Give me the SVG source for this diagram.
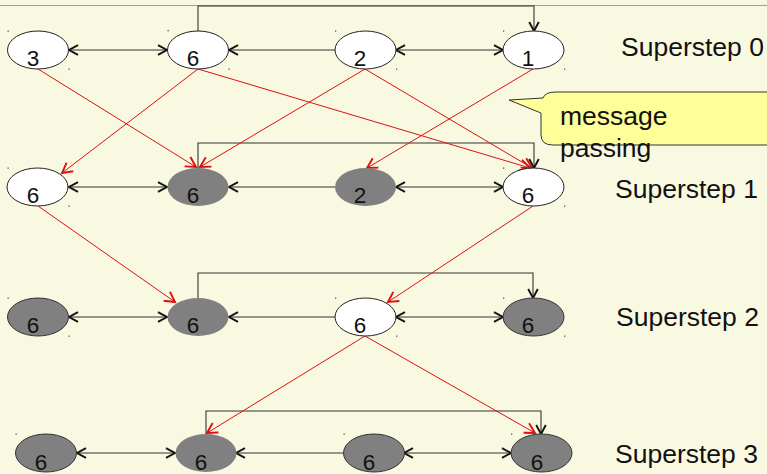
<svg xmlns="http://www.w3.org/2000/svg" width="767" height="474" viewBox="0 0 767 474">
<style>
.w{fill:#ffffff;stroke:#222;stroke-width:1}
.g{fill:#808080;stroke:none}
.go{fill:#808080;stroke:#333;stroke-width:1}
.d{font-family:"Liberation Sans",Arial,sans-serif;font-size:22.5px;fill:#111}
.lbl{font-family:"Liberation Sans",Arial,sans-serif;font-size:26.5px;fill:#111}
.k{fill:none;stroke:#333;stroke-width:1.1}
.r{fill:none;stroke:#dd1111;stroke-width:1}
.dot{fill:#555}
</style>
<defs>
<marker id="ak" markerUnits="userSpaceOnUse" markerWidth="14" markerHeight="14" refX="10" refY="6" orient="auto-start-reverse" viewBox="0 0 14 12">
<path d="M1,1.2 L10,6 L1,10.8" fill="none" stroke="#111" stroke-width="1.9"/>
</marker>
<marker id="ar" markerUnits="userSpaceOnUse" markerWidth="14" markerHeight="14" refX="11" refY="6" orient="auto" viewBox="0 0 14 12">
<path d="M1,0.5 L11,6 L1,11.5" fill="none" stroke="#dd1111" stroke-width="1.9"/>
</marker>
</defs>
<rect x="0" y="0" width="767" height="474" fill="#f9f9e1"/>
<line x1="0" y1="5.5" x2="767" y2="5.5" stroke="#a89c80" stroke-width="1"/>

<g id="connectors">
<path class="k" d="M198,31 V6 H534 V31" marker-end="url(#ak)"/>
<path class="k" d="M198,168 V143 H534 V168" marker-end="url(#ak)"/>
<path class="k" d="M198,298 V273 H533 V298" marker-end="url(#ak)"/>
<path class="k" d="M206,434 V411 H541 V434" marker-end="url(#ak)"/>
<line class="k" x1="69" y1="50" x2="167" y2="50" marker-start="url(#ak)" marker-end="url(#ak)"/>
<line class="k" x1="335" y1="50" x2="229" y2="50" marker-end="url(#ak)"/>
<line class="k" x1="396" y1="50" x2="503" y2="50" marker-start="url(#ak)" marker-end="url(#ak)"/>
<line class="k" x1="69" y1="187" x2="167" y2="187" marker-start="url(#ak)" marker-end="url(#ak)"/>
<line class="k" x1="335" y1="187" x2="229" y2="187" marker-end="url(#ak)"/>
<line class="k" x1="396" y1="187" x2="503" y2="187" marker-start="url(#ak)" marker-end="url(#ak)"/>
<line class="k" x1="69" y1="317" x2="167" y2="317" marker-start="url(#ak)" marker-end="url(#ak)"/>
<line class="k" x1="335" y1="317" x2="229" y2="317" marker-end="url(#ak)"/>
<line class="k" x1="396" y1="317" x2="503" y2="317" marker-start="url(#ak)" marker-end="url(#ak)"/>
<line class="k" x1="77" y1="453" x2="175" y2="453" marker-start="url(#ak)" marker-end="url(#ak)"/>
<line class="k" x1="343" y1="453" x2="236" y2="453" marker-end="url(#ak)"/>
<line class="k" x1="404" y1="453" x2="511" y2="453" marker-start="url(#ak)" marker-end="url(#ak)"/>
<line class="r" x1="38" y1="69" x2="196" y2="167" marker-end="url(#ar)"/>
<line class="r" x1="198" y1="69" x2="62" y2="173" marker-end="url(#ar)"/>
<line class="r" x1="198" y1="69" x2="530" y2="168" marker-end="url(#ar)"/>
<line class="r" x1="365" y1="69" x2="200" y2="167" marker-end="url(#ar)"/>
<line class="r" x1="365" y1="69" x2="532" y2="168" marker-end="url(#ar)"/>
<line class="r" x1="533" y1="69" x2="367" y2="168" marker-end="url(#ar)"/>
<line class="r" x1="38" y1="206" x2="175" y2="302" marker-end="url(#ar)"/>
<line class="r" x1="533" y1="206" x2="388" y2="302" marker-end="url(#ar)"/>
<line class="r" x1="365" y1="336" x2="207" y2="433" marker-end="url(#ar)"/>
<line class="r" x1="365" y1="336" x2="535" y2="433" marker-end="url(#ar)"/>
</g>

<g id="n0a"><ellipse class="w" cx="38" cy="50" rx="30.5" ry="19"/><text class="d" x="33" y="66" text-anchor="middle">3</text><rect class="dot" x="7.5" y="30.5" width="1.3" height="1.3"/><rect class="dot" x="68.5" y="68.5" width="1.3" height="1.3"/></g>
<g id="n0b"><ellipse class="w" cx="198" cy="50" rx="30.5" ry="19"/><text class="d" x="193" y="66" text-anchor="middle">6</text><rect class="dot" x="167.5" y="30" width="1.3" height="1.3"/><rect class="dot" x="228.5" y="68.5" width="1.3" height="1.3"/></g>
<g id="n0c"><ellipse class="w" cx="365.5" cy="50" rx="30.5" ry="19"/><text class="d" x="360" y="66" text-anchor="middle">2</text><rect class="dot" x="335" y="30.5" width="1.3" height="1.3"/><rect class="dot" x="396" y="68.5" width="1.3" height="1.3"/></g>
<g id="n0d"><ellipse class="w" cx="533.5" cy="50" rx="30.5" ry="19"/><text class="d" x="528" y="66" text-anchor="middle">1</text><rect class="dot" x="503" y="30.5" width="1.3" height="1.3"/><rect class="dot" x="564" y="68.5" width="1.3" height="1.3"/></g>

<g id="n1a"><ellipse class="w" cx="37.5" cy="187" rx="30.5" ry="19"/><text class="d" x="33" y="203" text-anchor="middle">6</text><rect class="dot" x="7.5" y="167.5" width="1.3" height="1.3"/><rect class="dot" x="68.5" y="205.5" width="1.3" height="1.3"/></g>
<g id="n1b"><ellipse class="g" cx="198" cy="187" rx="30.5" ry="19"/><text class="d" x="193" y="203" text-anchor="middle">6</text></g>
<g id="n1c"><ellipse class="g" cx="365.5" cy="187" rx="30.5" ry="19"/><text class="d" x="360" y="203" text-anchor="middle">2</text></g>
<g id="n1d"><ellipse class="w" cx="533.5" cy="187" rx="30.5" ry="19"/><text class="d" x="528" y="203" text-anchor="middle">6</text><rect class="dot" x="503" y="167.5" width="1.3" height="1.3"/><rect class="dot" x="564" y="205.5" width="1.3" height="1.3"/></g>

<g id="n2a"><ellipse class="go" cx="38" cy="317" rx="30.5" ry="19"/><text class="d" x="33" y="333" text-anchor="middle">6</text><rect class="dot" x="7.5" y="297.5" width="1.3" height="1.3"/><rect class="dot" x="68.5" y="335.5" width="1.3" height="1.3"/></g>
<g id="n2b"><ellipse class="g" cx="198" cy="317" rx="30.5" ry="19"/><text class="d" x="193" y="333" text-anchor="middle">6</text></g>
<g id="n2c"><ellipse class="w" cx="365.5" cy="317" rx="30.5" ry="19"/><text class="d" x="360" y="333" text-anchor="middle">6</text><rect class="dot" x="335" y="297.5" width="1.3" height="1.3"/><rect class="dot" x="396" y="335.5" width="1.3" height="1.3"/></g>
<g id="n2d"><ellipse class="go" cx="533.5" cy="317" rx="30.5" ry="19"/><text class="d" x="528" y="333" text-anchor="middle">6</text><rect class="dot" x="503" y="297.5" width="1.3" height="1.3"/><rect class="dot" x="564" y="335.5" width="1.3" height="1.3"/></g>

<g id="n3a"><ellipse class="go" cx="46" cy="453" rx="30.5" ry="19"/><text class="d" x="41" y="470" text-anchor="middle">6</text><rect class="dot" x="15.5" y="433.5" width="1.3" height="1.3"/></g>
<g id="n3b"><ellipse class="g" cx="206" cy="453" rx="30.5" ry="19"/><text class="d" x="201" y="470" text-anchor="middle">6</text></g>
<g id="n3c"><ellipse class="go" cx="374" cy="453" rx="30.5" ry="19"/><text class="d" x="369" y="470" text-anchor="middle">6</text><rect class="dot" x="343.5" y="433.5" width="1.3" height="1.3"/></g>
<g id="n3d"><ellipse class="go" cx="541.5" cy="453" rx="30.5" ry="19"/><text class="d" x="537" y="470" text-anchor="middle">6</text><rect class="dot" x="511" y="433.5" width="1.3" height="1.3"/></g>

<g id="callout">
<path d="M509,100 L543,98 Q545,92 556,92 H785 V145 H553 Q541,145 541,135 V113 Z" fill="#ffff99" stroke="#333" stroke-width="1"/>
<text class="lbl" x="560" y="125">message</text>
<text class="lbl" x="560" y="157">passing</text>
</g>

<g id="labels">
<text class="lbl" x="621" y="56">Superstep 0</text>
<text class="lbl" x="615" y="198">Superstep 1</text>
<text class="lbl" x="616" y="326">Superstep 2</text>
<text class="lbl" x="615" y="463">Superstep 3</text>
</g>
</svg>
